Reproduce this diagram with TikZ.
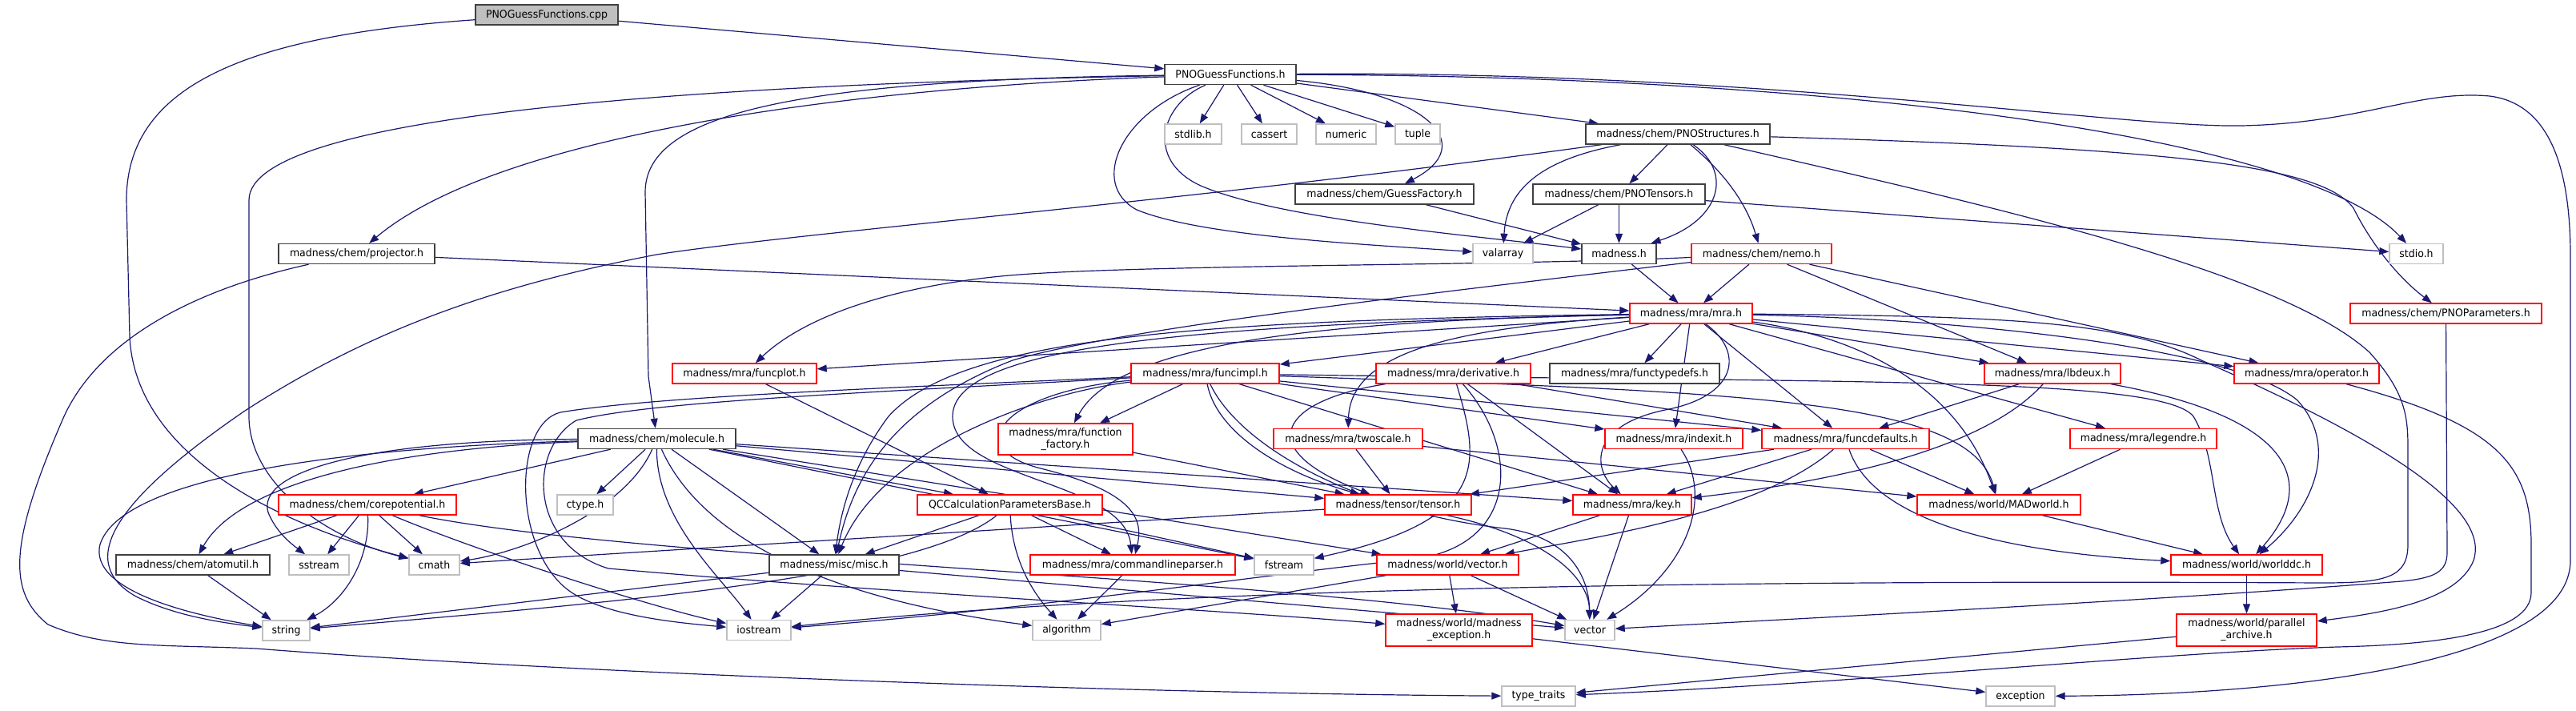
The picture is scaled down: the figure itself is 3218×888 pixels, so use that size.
\documentclass[tikz,border=0pt]{standalone}
\usepackage{fontspec}
\newfontfamily\nf{DejaVu Sans}[FakeStretch=0.95]
\usetikzlibrary{arrows.meta}
\definecolor{navy}{HTML}{191970}
\definecolor{gfill}{HTML}{BFBFBF}
\definecolor{dgray}{HTML}{404040}
\definecolor{lgray}{HTML}{BFBFBF}
\pgfdeclarelayer{bg}
\pgfsetlayers{bg,main}
\tikzset{
  nb/.style={draw=dgray, line width=1.4pt, fill=white, inner sep=0pt, minimum height=25pt,
     align=center, font=\nf\fontsize{13.2pt}{15pt}\selectfont},
  nblk/.style={nb},
  nred/.style={nb, draw=red},
  ngray/.style={nb, draw=lgray},
  ncur/.style={nb, fill=gfill},
  e/.style={draw=navy, line width=1.2pt, -{Triangle[length=12pt,width=9pt]}},
}
\begin{document}
\begin{tikzpicture}[x=1pt,y=-1pt]
\path[use as bounding box] (0,0) rectangle (3218,888);
% nodes
\node[ncur, minimum width=178pt] (cpp) at (683,18.5) {PNOGuessFunctions.cpp};
\node[nblk, minimum width=164pt] (h) at (1537,93) {PNOGuessFunctions.h};
\node[ngray, minimum width=71pt] (stdlib) at (1490.5,167.5) {stdlib.h};
\node[ngray, minimum width=69pt] (cassert) at (1585.5,167.5) {cassert};
\node[ngray, minimum width=75pt] (numeric) at (1681.5,167.5) {numeric};
\node[ngray, minimum width=56pt] (tuple) at (1771,167.5) {tuple};
\node[nblk, minimum width=230pt] (PNOStructures) at (2096,167.5) {madness/chem/PNOStructures.h};
\node[nblk, minimum width=223pt] (GuessFactory) at (1729.5,242.5) {madness/chem/GuessFactory.h};
\node[nblk, minimum width=215pt] (PNOTensors) at (2022.5,242.5) {madness/chem/PNOTensors.h};
\node[ngray, minimum width=75pt] (valarray) at (1877.5,317) {valarray};
\node[nblk, minimum width=93pt] (madness) at (2022.5,317) {madness.h};
\node[nred, minimum width=175pt] (nemo) at (2200.5,317) {madness/chem/nemo.h};
\node[ngray, minimum width=67pt] (stdio) at (3018.5,317) {stdio.h};
\node[nblk, minimum width=195pt] (projector) at (445.5,317) {madness/chem/projector.h};
\node[nred, minimum width=153pt] (mra) at (2112.5,391.5) {madness/mra/mra.h};
\node[nred, minimum width=239pt] (PNOParameters) at (3055.5,391.5) {madness/chem/PNOParameters.h};
\node[nred, minimum width=180pt] (funcplot) at (930,466.5) {madness/mra/funcplot.h};
\node[nred, minimum width=185pt] (funcimpl) at (1505.5,466.5) {madness/mra/funcimpl.h};
\node[nred, minimum width=193pt] (derivative) at (1815.5,466.5) {madness/mra/derivative.h};
\node[nblk, minimum width=212pt] (functypedefs) at (2042,466.5) {madness/mra/functypedefs.h};
\node[nred, minimum width=170pt] (lbdeux) at (2564,466.5) {madness/mra/lbdeux.h};
\node[nred, minimum width=181pt] (operator) at (2881.5,466.5) {madness/mra/operator.h};
\node[nblk, minimum width=197pt] (molecule) at (820.5,548) {madness/chem/molecule.h};
\node[nred, minimum width=168pt, minimum height=39pt] (functionfactory) at (1331,548.5) {madness/mra/function\\\_factory.h};
\node[nred, minimum width=186pt] (twoscale) at (1684,548) {madness/mra/twoscale.h};
\node[nred, minimum width=172pt] (indexit) at (2091,548) {madness/mra/indexit.h};
\node[nred, minimum width=209pt] (funcdefaults) at (2305.5,548) {madness/mra/funcdefaults.h};
\node[nred, minimum width=183pt] (legendre) at (2677.5,548) {madness/mra/legendre.h};
\node[nred, minimum width=222pt] (corepotential) at (459,630.5) {madness/chem/corepotential.h};
\node[ngray, minimum width=70pt] (ctype) at (731,630.5) {ctype.h};
\node[nred, minimum width=231pt] (QCCalc) at (1261.5,630.5) {QCCalculationParametersBase.h};
\node[nred, minimum width=183pt] (tensor) at (1746.5,630.5) {madness/tensor/tensor.h};
\node[nred, minimum width=148pt] (key) at (2039,630.5) {madness/mra/key.h};
\node[nred, minimum width=204pt] (MADworld) at (2497,630.5) {madness/world/MADworld.h};
\node[nblk, minimum width=192pt] (atomutil) at (241,705.5) {madness/chem/atomutil.h};
\node[ngray, minimum width=75pt] (sstream) at (398.5,705.5) {sstream};
\node[ngray, minimum width=63pt] (cmath) at (542.5,705.5) {cmath};
\node[nblk, minimum width=162pt] (misc) at (1042,705.5) {madness/misc/misc.h};
\node[nred, minimum width=256pt] (cmdline) at (1415,705.5) {madness/mra/commandlineparser.h};
\node[ngray, minimum width=74pt] (fstream) at (1604,705.5) {fstream};
\node[nred, minimum width=177pt] (vectorh) at (1808.5,705.5) {madness/world/vector.h};
\node[nred, minimum width=189pt] (worlddc) at (2806.5,705.5) {madness/world/worlddc.h};
\node[ngray, minimum width=59pt] (string) at (357.5,787.5) {string};
\node[ngray, minimum width=80pt] (iostream) at (948,787) {iostream};
\node[ngray, minimum width=85pt] (algorithm) at (1332.5,787) {algorithm};
\node[nred, minimum width=183pt, minimum height=40pt] (mexc) at (1822.5,787) {madness/world/madness\\\_exception.h};
\node[ngray, minimum width=62pt] (vector) at (1986,787) {vector};
\node[nred, minimum width=175pt, minimum height=40pt] (parch) at (2806.5,787) {madness/world/parallel\\\_archive.h};
\node[ngray, minimum width=92pt] (typetraits) at (1922,869.5) {type\_traits};
\node[ngray, minimum width=86pt] (exception) at (2524,869.5) {exception};
\begin{pgfonlayer}{bg}
% cpp
\draw[e] (cpp) -- (h);
\draw[e] (cpp) .. controls (300,45) and (158,110) .. (158,250) -- (162,420) .. controls (168,560) and (330,650) .. (cmath);
% h
\draw[e] (h) -- (stdlib);
\draw[e] (h) -- (cassert);
\draw[e] (h) -- (numeric);
\draw[e] (h) -- (tuple);
\draw[e] (h) -- (PNOStructures);
\draw[e] (h) .. controls (1780,115) and (1850,180) .. (GuessFactory);
\draw[e] (h) .. controls (2300,95) and (2880,170) .. (stdio);
\draw[e] (h) .. controls (2200,88) and (2650,160) .. (2800,157) .. controls (2950,154) and (3020,112) .. (3110,120) .. controls (3190,130) and (3211,220) .. (3211,320) -- (3211,700) .. controls (3211,830) and (2850,868) .. (exception);
\draw[e] (h) .. controls (1050,110) and (620,170) .. (projector);
\draw[e] (h) .. controls (1000,100) and (806,140) .. (806,240) -- (810,470) -- (molecule);
\draw[e] (h) .. controls (900,105) and (311,140) .. (311,250) -- (311,520) .. controls (311,600) and (400,670) .. (cmath);
\draw[e] (h) .. controls (1400,140) and (1360,230) .. (1420,262) .. controls (1500,295) and (1700,305) .. (valarray);
\draw[e] (h) .. controls (1450,130) and (1430,200) .. (1500,232) .. controls (1600,275) and (1850,295) .. (madness);
% PNOStructures
\draw[e] (PNOStructures) -- (PNOTensors);
\draw[e] (PNOStructures) .. controls (1920,200) and (1882,240) .. (valarray);
\draw[e] (PNOStructures) .. controls (2165,215) and (2150,275) .. (madness);
\draw[e] (PNOStructures) .. controls (2165,225) and (2185,265) .. (nemo);
\draw[e] (PNOStructures) .. controls (2700,185) and (2900,205) .. (2940,260) .. controls (2965,310) and (3000,350) .. (PNOParameters);
\draw[e] (PNOStructures) .. controls (1500,250) and (1000,290) .. (820,318) .. controls (600,360) and (450,420) .. (306,513) .. controls (150,620) and (90,700) .. (170,745) .. controls (220,770) and (280,778) .. (string);
\draw[e] (PNOStructures) .. controls (2500,260) and (2850,340) .. (2960,440) .. controls (3005,490) and (3008,520) .. (3008,560) -- (3008,680) .. controls (3008,722) and (2980,728) .. (2900,728) .. controls (2300,725) and (1500,728) .. (iostream);
% upper
\draw[e] (GuessFactory) -- (madness);
\draw[e] (PNOTensors) -- (valarray);
\draw[e] (PNOTensors) -- (madness);
\draw[e] (PNOTensors) -- (stdio);
\draw[e] (madness) -- (mra);
\draw[e] (nemo) -- (mra);
\draw[e] (nemo) .. controls (1900,332) and (1400,330) .. (1250,345) .. controls (1100,360) and (1000,400) .. (funcplot);
\draw[e] (nemo) .. controls (1800,365) and (1400,410) .. (1265,450) .. controls (1110,510) and (1065,600) .. (misc);
\draw[e] (nemo) -- (lbdeux);
\draw[e] (nemo) -- (operator);
\draw[e] (projector) -- (mra);
\draw[e] (projector) .. controls (250,360) and (126,420) .. (80,520) .. controls (10,680) and (10,740) .. (60,780) .. controls (130,810) and (200,805) .. (320,810) .. controls (700,840) and (1400,866) .. (typetraits);
% mra
\draw[e] (mra) -- (funcplot);
\draw[e] (mra) -- (funcimpl);
\draw[e] (mra) -- (derivative);
\draw[e] (mra) -- (functypedefs);
\draw[e] (mra) .. controls (1800,410) and (1686,445) .. (twoscale);
\draw[e] (mra) -- (indexit);
\draw[e] (mra) .. controls (2180,440) and (2170,495) .. (2080,512) .. controls (1985,532) and (1990,585) .. (key);
\draw[e] (mra) -- (funcdefaults);
\draw[e] (mra) -- (lbdeux);
\draw[e] (mra) -- (operator);
\draw[e] (mra) -- (legendre);
\draw[e] (mra) .. controls (2320,420) and (2445,480) .. (MADworld);
\draw[e] (mra) .. controls (2500,400) and (2800,440) .. (2870,500) .. controls (2925,560) and (2885,640) .. (worlddc);
\draw[e] (mra) .. controls (2500,395) and (2650,400) .. (2750,450) .. controls (3000,560) and (3110,640) .. (3090,700) .. controls (3070,750) and (2980,765) .. (parch);
\draw[e] (mra) .. controls (1700,400) and (1400,420) .. (functionfactory);
\draw[e] (mra) .. controls (1500,405) and (1190,430) .. (1190,520) .. controls (1190,600) and (1405,600) .. (cmdline);
\draw[e] (mra) .. controls (1500,400) and (1200,420) .. (1110,520) .. controls (1065,580) and (1050,640) .. (misc);
% funcimpl
\draw[e] (funcimpl) -- (functionfactory);
\draw[e] (funcimpl) .. controls (1520,540) and (1600,590) .. (tensor);
\draw[e] (funcimpl) -- (key);
\draw[e] (funcimpl) -- (indexit);
\draw[e] (funcimpl) -- (funcdefaults);
\draw[e] (funcimpl) .. controls (2200,490) and (2460,500) .. (MADworld);
\draw[e] (funcimpl) .. controls (2300,478) and (2700,470) .. (2740,520) .. controls (2770,570) and (2760,640) .. (worlddc);
\draw[e] (funcimpl) .. controls (1300,490) and (1100,560) .. (misc);
\draw[e] (funcimpl) .. controls (1250,490) and (1200,560) .. (1300,585) .. controls (1420,615) and (1428,650) .. (cmdline);
\draw[e] (funcimpl) .. controls (1550,560) and (1700,640) .. (1880,660) .. controls (1960,670) and (1985,720) .. (vector);
\draw[e] (funcimpl) .. controls (1100,485) and (820,495) .. (700,515) .. controls (640,530) and (640,690) .. (714,740) .. controls (760,770) and (850,778) .. (iostream);
\draw[e] (funcimpl) .. controls (1100,490) and (820,500) .. (720,525) .. controls (660,560) and (660,680) .. (760,710) .. controls (1100,740) and (1500,760) .. (mexc);
% others
\draw[e] (funcplot) -- (QCCalc);
\draw[e] (derivative) -- (funcdefaults);
\draw[e] (derivative) .. controls (1600,500) and (1560,560) .. (tensor);
\draw[e] (derivative) -- (key);
\draw[e] (derivative) .. controls (1850,580) and (1860,650) .. (fstream);
\draw[e] (derivative) .. controls (1900,560) and (1900,690) .. (1750,700) .. controls (1600,715) and (1300,760) .. (iostream);
\draw[e] (twoscale) -- (tensor);
\draw[e] (twoscale) -- (MADworld);
\draw[e] (indexit) .. controls (2140,620) and (2110,710) .. (vector);
\draw[e] (funcdefaults) -- (tensor);
\draw[e] (funcdefaults) -- (key);
\draw[e] (funcdefaults) .. controls (2200,640) and (2000,670) .. (vectorh);
\draw[e] (funcdefaults) -- (MADworld);
\draw[e] (funcdefaults) .. controls (2340,650) and (2500,690) .. (worlddc);
\draw[e] (lbdeux) -- (funcdefaults);
\draw[e] (lbdeux) .. controls (2480,560) and (2300,600) .. (key);
\draw[e] (lbdeux) .. controls (2860,520) and (2900,600) .. (worlddc);
\draw[e] (legendre) -- (MADworld);
\draw[e] (operator) .. controls (3120,530) and (3162,580) .. (3162,680) -- (3162,740) .. controls (3162,790) and (3050,805) .. (2920,808) .. controls (2700,815) and (2300,855) .. (typetraits);
\draw[e] (MADworld) -- (worlddc);
\draw[e] (worlddc) -- (parch);
\draw[e] (parch) -- (typetraits);
\draw[e] (PNOParameters) -- (3057,690) .. controls (3057,715) and (3040,722) .. (3000,726) .. controls (2700,750) and (2200,775) .. (vector);
\draw[e] (mexc) -- (exception);
\draw[e] (key) -- (vectorh);
\draw[e] (key) -- (vector);
\draw[e] (tensor) .. controls (1930,670) and (1985,720) .. (vector);
\draw[e] (tensor) -- (cmath);
\draw[e] (vectorh) -- (mexc);
\draw[e] (vectorh) -- (vector);
\draw[e] (vectorh) -- (algorithm);
\draw[e] (cmdline) -- (algorithm);
\draw[e] (misc) -- (iostream);
\draw[e] (misc) -- (string);
\draw[e] (misc) -- (vector);
\draw[e] (QCCalc) -- (misc);
\draw[e] (QCCalc) -- (cmdline);
\draw[e] (QCCalc) -- (fstream);
\draw[e] (QCCalc) .. controls (1265,700) and (1290,740) .. (algorithm);
\draw[e] (QCCalc) .. controls (1150,720) and (800,750) .. (string);
\draw[e] (functionfactory) -- (tensor);
% molecule
\draw[e] (molecule) -- (ctype);
\draw[e] (molecule) -- (corepotential);
\draw[e] (molecule) .. controls (500,560) and (300,600) .. (atomutil);
\draw[e] (molecule) .. controls (450,550) and (320,590) .. (335,640) .. controls (345,665) and (365,680) .. (sstream);
\draw[e] (molecule) .. controls (780,640) and (650,690) .. (cmath);
\draw[e] (molecule) .. controls (400,560) and (150,600) .. (125,680) .. controls (110,740) and (250,770) .. (string);
\draw[e] (molecule) .. controls (820,650) and (900,720) .. (iostream);
\draw[e] (molecule) -- (misc);
\draw[e] (molecule) -- (QCCalc);
\draw[e] (molecule) .. controls (880,680) and (1050,750) .. (algorithm);
\draw[e] (molecule) -- (tensor);
\draw[e] (molecule) -- (key);
\draw[e] (molecule) -- (vectorh);
\draw[e] (molecule) -- (fstream);
% corepotential
\draw[e] (corepotential) -- (atomutil);
\draw[e] (corepotential) -- (sstream);
\draw[e] (corepotential) -- (cmath);
\draw[e] (corepotential) .. controls (462,700) and (430,750) .. (string);
\draw[e] (corepotential) .. controls (600,690) and (820,760) .. (iostream);
\draw[e] (corepotential) .. controls (800,700) and (1600,720) .. (vector);
\draw[e] (atomutil) -- (string);
\end{pgfonlayer}
\end{tikzpicture}
\end{document}
